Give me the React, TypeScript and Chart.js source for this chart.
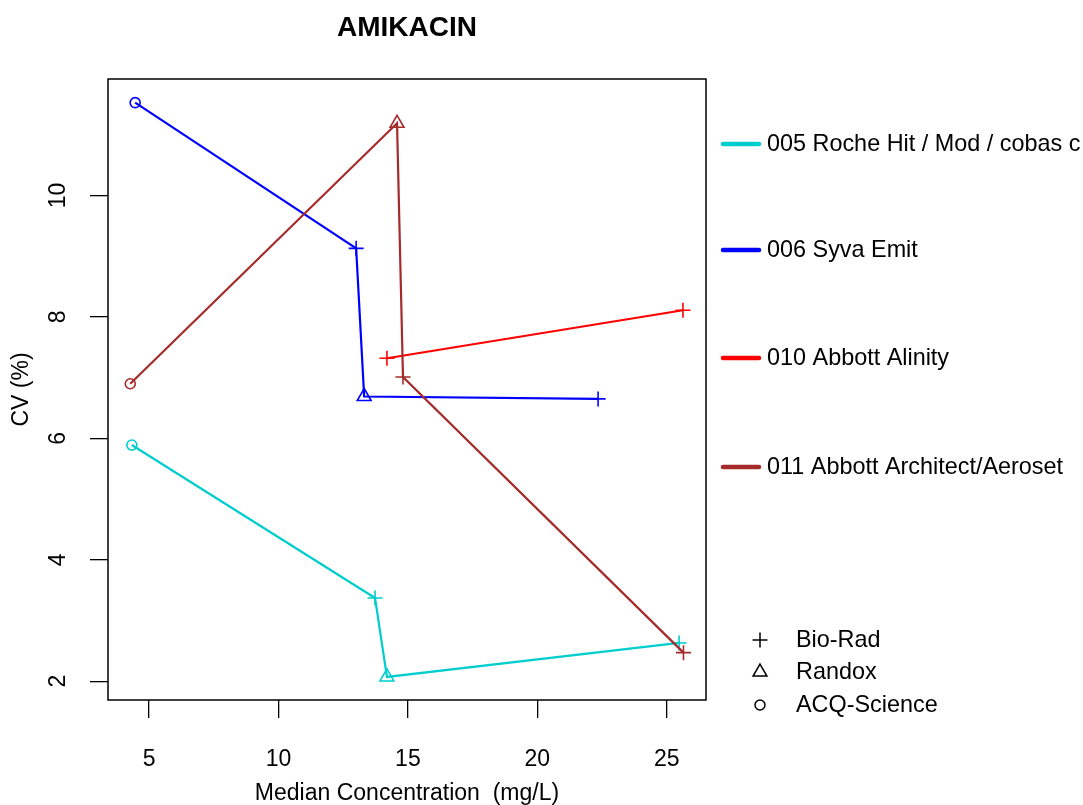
import React, { useEffect, useRef } from "react";
import { Chart, registerables } from "chart.js";

Chart.register(...registerables);

const chartTitle = "AMIKACIN";
const xTitle = "Median Concentration  (mg/L)";
const yTitle = "CV (%)";

const seriesNames = [
  "005 Roche Hit / Mod / cobas c",
  "006 Syva Emit",
  "010 Abbott Alinity",
  "011 Abbott Architect/Aeroset",
];
const seriesColors = ["#00CDCD", "#0000FF", "#FF0000", "#A52A2A"];

// 005 Roche
const rocheX = [4.33, 13.73, 14.19, 25.48];
const rocheY = [5.89, 3.37, 2.07, 2.63];
const rocheMat = ["ACQ-Science", "Bio-Rad", "Randox", "Bio-Rad"];
// 006 Syva
const syvaX = [4.46, 13.0, 13.31, 22.35];
const syvaY = [11.53, 9.13, 6.69, 6.65];
const syvaMat = ["ACQ-Science", "Bio-Rad", "Randox", "Bio-Rad"];
// 010 Alinity
const alinityX = [14.19, 25.63];
const alinityY = [7.32, 8.11];
const alinityMat = ["Bio-Rad", "Bio-Rad"];
// 011 Architect
const architectX = [4.27, 14.58, 14.81, 25.65];
const architectY = [6.9, 11.19, 7.01, 2.47];
const architectMat = ["ACQ-Science", "Randox", "Bio-Rad", "Bio-Rad"];

const materials = ["Bio-Rad", "Randox", "ACQ-Science"];
const materialStyles = ["cross", "triangle", "circle"];
const materialRadius = [7.5, 8, 5];

const xTicks = [5, 10, 15, 20, 25];
const yTicks = [2, 4, 6, 8, 10];
const xMin = 3.41;
const xMax = 26.52;
const yMin = 1.69;
const yMax = 11.92;

const FONT = "'Liberation Sans', Arial, sans-serif";

const allX = [rocheX, syvaX, alinityX, architectX];
const allY = [rocheY, syvaY, alinityY, architectY];
const allMat = [rocheMat, syvaMat, alinityMat, architectMat];

function drawSymbol(ctx: CanvasRenderingContext2D, style: string, x: number, y: number, r: number) {
  ctx.beginPath();
  if (style === "cross") {
    ctx.moveTo(x - r, y);
    ctx.lineTo(x + r, y);
    ctx.moveTo(x, y - r);
    ctx.lineTo(x, y + r);
  } else if (style === "triangle") {
    const a = (2 * Math.PI) / 3;
    ctx.moveTo(x, y - r);
    ctx.lineTo(x + Math.sin(a) * r, y - Math.cos(a) * r);
    ctx.lineTo(x + Math.sin(2 * a) * r, y - Math.cos(2 * a) * r);
    ctx.closePath();
  } else {
    ctx.arc(x, y, r, 0, Math.PI * 2);
  }
  ctx.stroke();
}

const decorPlugin = {
  id: "decor",
  afterDraw(chart: any) {
    const ctx: CanvasRenderingContext2D = chart.ctx;
    const a = chart.chartArea;
    ctx.save();
    // box
    ctx.strokeStyle = "#000";
    ctx.lineWidth = 1.5;
    ctx.strokeRect(a.left, a.top, a.right - a.left, a.bottom - a.top);
    // title
    ctx.fillStyle = "#000";
    ctx.font = `bold 28px ${FONT}`;
    ctx.textAlign = "center";
    ctx.textBaseline = "middle";
    ctx.fillText(chartTitle, (a.left + a.right) / 2, 28);
    // series legend
    const legendY = [144, 250, 358, 467];
    ctx.font = `23.4px ${FONT}`;
    ctx.textAlign = "left";
    seriesNames.forEach((name, i) => {
      ctx.strokeStyle = seriesColors[i];
      ctx.lineWidth = 4.5;
      ctx.lineCap = "round";
      ctx.beginPath();
      ctx.moveTo(723, legendY[i]);
      ctx.lineTo(759, legendY[i]);
      ctx.stroke();
      ctx.fillStyle = "#000";
      ctx.fillText(name, 767, legendY[i] + 1);
    });
    // material legend
    const matY = [640, 672, 705];
    ctx.lineCap = "butt";
    materials.forEach((m, i) => {
      ctx.strokeStyle = "#000";
      ctx.lineWidth = 1.5;
      drawSymbol(ctx, materialStyles[i], 760, matY[i], materialRadius[i]);
      ctx.fillStyle = "#000";
      ctx.fillText(m, 796, matY[i] + 1);
    });
    ctx.restore();
  },
};

export default function App() {
  const ref = useRef<HTMLCanvasElement | null>(null);
  useEffect(() => {
    if (!ref.current) return;
    const datasets = seriesNames.map((name, i) => {
      const styles = allMat[i].map((m) => materialStyles[materials.indexOf(m)]);
      const radii = allMat[i].map((m) => materialRadius[materials.indexOf(m)]);
      return {
        label: name,
        data: allX[i].map((x, j) => ({ x, y: allY[i][j] })),
        showLine: true,
        borderColor: seriesColors[i],
        backgroundColor: seriesColors[i],
        borderWidth: 2.2,
        tension: 0,
        pointStyle: styles,
        pointRadius: radii,
        pointHoverRadius: radii,
        pointBorderWidth: 1.6,
        pointBorderColor: seriesColors[i],
        pointBackgroundColor: "rgba(0,0,0,0)",
        order: seriesNames.length - i,
      };
    });
    const chart = new Chart(ref.current, {
      type: "scatter",
      data: { datasets: datasets as any },
      options: {
        responsive: false,
        animation: false,
        layout: { padding: { top: 79, right: 377, left: 0, bottom: 0 } },
        plugins: { legend: { display: false }, title: { display: false }, tooltip: { enabled: false } },
        scales: {
          x: {
            type: "linear",
            min: xMin,
            max: xMax,
            afterFit: (s: any) => {
              s.height = 105;
            },
            afterBuildTicks: (s: any) => {
              s.ticks = xTicks.map((v) => ({ value: v }));
            },
            border: { display: false },
            grid: { drawOnChartArea: false, drawTicks: true, tickLength: 18, color: "#000", lineWidth: 1.3 },
            ticks: { color: "#000", padding: 28, font: { family: FONT, size: 23, lineHeight: 1.2 }, maxRotation: 0, minRotation: 0 },
            title: { display: true, text: xTitle, color: "#000", font: { family: FONT, size: 23, lineHeight: 1 }, padding: { top: 0, bottom: 0 } },
          },
          y: {
            type: "linear",
            min: yMin,
            max: yMax,
            afterFit: (s: any) => {
              s.width = 108;
            },
            afterBuildTicks: (s: any) => {
              s.ticks = yTicks.map((v) => ({ value: v }));
            },
            border: { display: false },
            grid: { drawOnChartArea: false, drawTicks: true, tickLength: 18, color: "#000", lineWidth: 1.3 },
            ticks: { color: "#000", padding: 19, crossAlign: "center", minRotation: 90, maxRotation: 90, font: { family: FONT, size: 23, lineHeight: 1.2 } },
            title: { display: true, text: yTitle, color: "#000", font: { family: FONT, size: 23, lineHeight: 1 }, padding: { top: 10, bottom: 0 } },
          },
        },
      },
      plugins: [decorPlugin],
    });
    return () => chart.destroy();
  }, []);
  return (
    <div style={{ position: "fixed", left: 0, top: 0, width: 1083, height: 805, background: "#fff" }}>
      <canvas ref={ref} width={1083} height={805} style={{ display: "block" }} />
    </div>
  );
}
